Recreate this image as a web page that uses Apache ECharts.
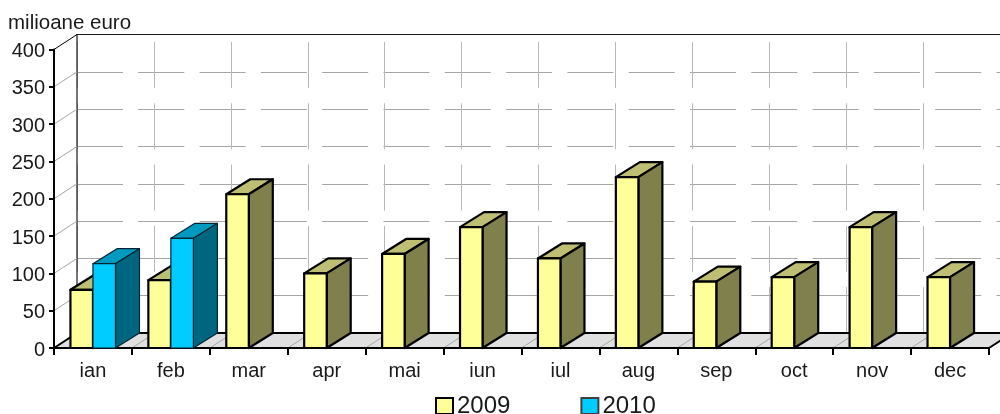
<!DOCTYPE html>
<html>
<head>
<meta charset="utf-8">
<style>
  html, body { margin: 0; padding: 0; background: #fff; }
  #chart { width: 1000px; height: 414px; }
</style>
<script src="https://cdn.jsdelivr.net/npm/echarts@6/dist/echarts.min.js"></script>
</head>
<body>
<div id="chart"></div>
<script>
  const months = ['ian', 'feb', 'mar', 'apr', 'mai', 'iun', 'iul', 'aug', 'sep', 'oct', 'nov', 'dec'];
  const values2009 = [78, 91, 206, 100, 126, 162, 120, 229, 89, 95, 162, 95];
  const values2010 = [113, 147];
  const yTicks = [50, 100, 150, 200, 250, 300, 350, 400];

  // depth of the fake 3d box, in pixels
  const depthX = 23;
  const depthY = 15;
  const barDepthX = 24;
  const barShare = 0.289;

  const chart = echarts.init(document.getElementById('chart'));

  function renderBar(offset, colors, lineWidth) {
    return function (params, api) {
      const value = api.value(1);
      if (isNaN(value)) return;
      const top = api.coord([api.value(0), value]);
      const base = api.coord([api.value(0), 0]);
      const w = api.size([1, 0])[0] * barShare;
      const x0 = top[0] + offset * w;
      const x1 = x0 + w;
      const y0 = top[1];
      const y1 = base[1];
      const line = { stroke: colors.line, lineWidth: lineWidth, lineJoin: 'round' };
      return {
        type: 'group',
        children: [
          {
            type: 'polygon',
            shape: { points: [[x0, y0], [x1, y0], [x1 + barDepthX, y0 - depthY], [x0 + barDepthX, y0 - depthY]] },
            style: Object.assign({ fill: colors.top }, line)
          },
          {
            type: 'polygon',
            shape: { points: [[x1, y0], [x1 + barDepthX, y0 - depthY], [x1 + barDepthX, y1 - depthY], [x1, y1]] },
            style: Object.assign({ fill: colors.side }, line)
          },
          {
            type: 'rect',
            shape: { x: x0, y: y0, width: w, height: y1 - y0 },
            style: Object.assign({ fill: colors.front }, line)
          }
        ]
      };
    };
  }

  // floor of the box with its diagonals, plus the dark back edges
  function renderFloor(params, api) {
    const sys = params.coordSys;
    const bottom = sys.y + sys.height;
    const right = sys.x + sys.width;
    const band = sys.width / months.length;
    const children = [{
      type: 'polygon',
      shape: { points: [[sys.x, bottom], [right, bottom], [right + depthX, bottom - depthY], [sys.x + depthX, bottom - depthY]] },
      style: { fill: '#e0e0e0', stroke: 'none' }
    }];
    months.forEach(function (m, i) {
      if (i === 0) return;
      const x = sys.x + band * i;
      children.push({
        type: 'line',
        shape: { x1: x, y1: bottom, x2: x + depthX, y2: bottom - depthY },
        style: { stroke: '#a6a6a6', lineWidth: 1 }
      });
    });
    children.push({
      type: 'polyline',
      shape: { points: [[sys.x, bottom], [sys.x + depthX, bottom - depthY], [right + depthX, bottom - depthY]] },
      style: { stroke: '#000', lineWidth: 2, fill: 'none' }
    });
    children.push({
      type: 'line',
      shape: { x1: right, y1: bottom, x2: right + depthX, y2: bottom - depthY },
      style: { stroke: '#000', lineWidth: 2 }
    });
    // back wall outline
    children.push({
      type: 'polyline',
      shape: { points: [[sys.x + depthX, bottom - depthY], [sys.x + depthX, sys.y - depthY], [right + depthX, sys.y - depthY]] },
      style: { stroke: '#1a1a1a', lineWidth: 1.2, fill: 'none' }
    });
    return { type: 'group', children: children };
  }

  // diagonals on the left wall
  function renderWall(params, api) {
    const v = api.value(0);
    const p = api.coord([0, v]);
    const x = params.coordSys.x;
    return {
      type: 'line',
      shape: { x1: x, y1: p[1], x2: x + depthX, y2: p[1] - depthY },
      style: { stroke: v === 400 ? '#000' : '#a6a6a6', lineWidth: 1 }
    };
  }

  chart.setOption({
    animation: false,
    backgroundColor: '#fff',
    textStyle: { fontFamily: '"Liberation Sans", Arial, sans-serif', color: '#000' },
    graphic: [{
      type: 'text',
      left: 8,
      top: 13,
      style: { text: 'milioane euro', font: '20.5px "Liberation Sans", Arial, sans-serif', fill: '#1a1a1a' }
    }],
    legend: {
      left: 435,
      top: 394,
      padding: 0,
      itemWidth: 17,
      itemHeight: 16,
      itemGap: 70,
      icon: 'rect',
      data: ['2009', '2010'],
      textStyle: { fontSize: 24, color: '#1a1a1a', padding: [0, 0, 0, -1] }
    },
    grid: [
      { left: 54, top: 49.5, width: 935, height: 298.5 },
      { left: 54 + depthX, top: 49.5 - depthY, width: 935, height: 298.5 }
    ],
    xAxis: [
      {
        type: 'category',
        data: months,
        gridIndex: 0,
        z: 6,
        axisLine: { lineStyle: { color: '#000', width: 2 } },
        axisTick: { show: true, length: 7, lineStyle: { color: '#000', width: 2 } },
        axisLabel: { fontSize: 20, color: '#1a1a1a', margin: 13, interval: 0 },
        splitLine: { show: false }
      },
      {
        type: 'category',
        data: months,
        gridIndex: 1,
        position: 'top',
        axisLine: { show: false },
        axisTick: { show: false },
        axisLabel: { show: false },
        splitLine: {
          show: true,
          interval: 0,
          lineStyle: { color: '#b8b8b8', width: 1, type: [46, 15.3], dashOffset: 53.8 }
        }
      }
    ],
    yAxis: [
      {
        type: 'value',
        gridIndex: 0,
        min: 0,
        max: 400,
        interval: 50,
        z: 6,
        axisLine: { show: true, lineStyle: { color: '#000', width: 2 } },
        axisTick: { show: true, length: 5, lineStyle: { color: '#000', width: 2 } },
        axisLabel: { fontSize: 20, color: '#1a1a1a', margin: 9, verticalAlign: 'top', lineHeight: 20, padding: [-8, 0, 0, 0] },
        splitLine: { show: false }
      },
      {
        type: 'value',
        gridIndex: 1,
        min: 0,
        max: 400,
        interval: 50,
        axisLine: { show: false },
        axisTick: { show: false },
        axisLabel: { show: false },
        splitLine: {
          show: true,
          lineStyle: { color: '#a6a6a6', width: 1, type: [46, 15.3] }
        }
      }
    ],
    series: [
      {
        type: 'custom',
        name: 'floor',
        xAxisIndex: 0,
        yAxisIndex: 0,
        z: 3,
        silent: true,
        data: [0],
        renderItem: renderFloor
      },
      {
        type: 'custom',
        name: 'wall',
        xAxisIndex: 0,
        yAxisIndex: 0,
        z: 3,
        silent: true,
        encode: { y: 0 },
        data: yTicks,
        renderItem: renderWall
      },
      {
        type: 'custom',
        name: '2009',
        xAxisIndex: 0,
        yAxisIndex: 0,
        z: 8,
        itemStyle: { color: '#ffff99', borderColor: '#000', borderWidth: 2 },
        encode: { x: 0, y: 1 },
        data: values2009.map(function (v, i) { return [i, v]; }),
        renderItem: renderBar(-1, { front: '#ffff99', top: '#bfbf73', side: '#80804d', line: '#000' }, 2.2)
      },
      {
        type: 'custom',
        name: '2010',
        xAxisIndex: 0,
        yAxisIndex: 0,
        z: 9,
        itemStyle: { color: '#00ccff', borderColor: '#404040', borderWidth: 1 },
        encode: { x: 0, y: 1 },
        data: values2010.map(function (v, i) { return [i, v]; }),
        renderItem: renderBar(0, { front: '#00ccff', top: '#0099bf', side: '#006680', line: '#002633' }, 1.2)
      }
    ]
  });
</script>
</body>
</html>
